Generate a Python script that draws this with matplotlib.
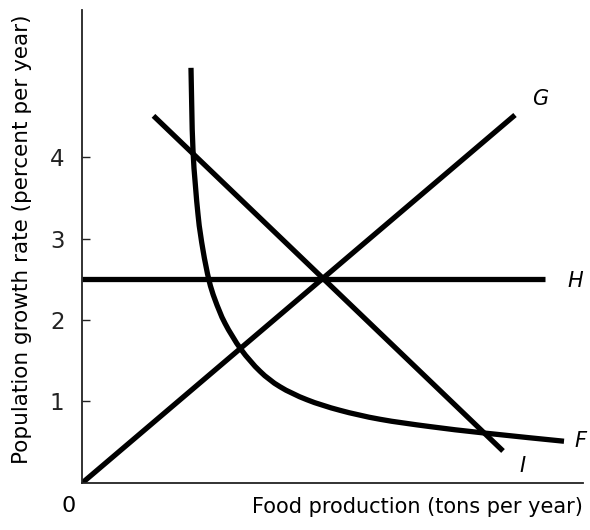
import matplotlib
matplotlib.use("Agg")
import matplotlib.pyplot as plt
from matplotlib.path import Path
from matplotlib.patches import PathPatch

# Curve G: rising straight line from the origin
g_x = [0.0, 8.65]
g_y = [0.0, 4.52]

# Curve H: horizontal line at 2.5 percent
h_x = [0.0, 9.25]
h_y = [2.5, 2.5]

# Curve I: falling straight line
i_x = [1.42, 8.41]
i_y = [4.51, 0.39]

# Curve F: steep, convex falling curve
f_x = [2.17, 2.21, 2.31, 2.41, 2.53, 2.65, 2.85, 3.17, 3.55, 3.95, 4.49,
       5.15, 5.95, 6.95, 8.05, 9.63]
f_y = [5.10, 4.09, 3.30, 2.86, 2.49, 2.25, 1.96, 1.64, 1.37, 1.18, 1.02,
       0.89, 0.78, 0.69, 0.61, 0.51]

y_ticks = [1, 2, 3, 4]
y_tick_labels = ["1", "2", "3", "4"]

plt.rcParams["font.family"] = ["DejaVu Sans"]

fig = plt.figure(figsize=(5.90, 5.30), dpi=100)
ax = fig.add_axes([0.1398, 0.0892, 0.8475, 0.8918])
ax.set_xlim(0, 10)
ax.set_ylim(0, 5.81)

lw = 3.8
style = dict(color="black", lw=lw, solid_capstyle="butt", solid_joinstyle="round")
ax.plot(h_x, h_y, **style)
ax.plot(g_x, g_y, **style)
ax.plot(i_x, i_y, **style)


def smooth_path(xs, ys, trans):
    """Catmull-Rom curve through the points, built in display space."""
    pts = trans.transform(list(zip(xs, ys)))
    verts = [pts[0]]
    codes = [Path.MOVETO]
    n = len(pts)
    for k in range(n - 1):
        p0 = pts[k - 1] if k > 0 else pts[k]
        p1 = pts[k]
        p2 = pts[k + 1]
        p3 = pts[k + 2] if k + 2 < n else pts[k + 1]
        c1 = p1 + (p2 - p0) / 6.0
        c2 = p2 - (p3 - p1) / 6.0
        verts += [c1, c2, p2]
        codes += [Path.CURVE4] * 3
    return Path(verts, codes)


fig.canvas.draw()
f_path = smooth_path(f_x, f_y, ax.transData)
ax.add_patch(PathPatch(f_path, transform=None, facecolor="none",
                       edgecolor="black", lw=lw, capstyle="butt",
                       joinstyle="round"))

# Curve labels
lab = dict(fontsize=15, style="italic", color="black", va="center", ha="center")
ax.text(9.15, 4.72, "G", **lab)
ax.text(9.85, 2.48, "H", **lab)
ax.text(9.95, 0.51, "F", **lab)
ax.text(8.79, 0.20, "I", **lab)

for side in ("top", "right"):
    ax.spines[side].set_visible(False)
for side in ("left", "bottom"):
    ax.spines[side].set_linewidth(1.3)
    ax.spines[side].set_color("#222222")

ax.set_xticks([])
ax.set_yticks(y_ticks)
ax.set_yticklabels(y_tick_labels, fontsize=16.5)
ax.tick_params(axis="y", direction="in", length=6, width=1.0, pad=13, colors="#222222")

ax.text(-0.28, -0.28, "0", transform=ax.transData, fontsize=16,
        ha="center", va="center", clip_on=False)

ax.set_xlabel("Food production (tons per year)", fontsize=15, ha="right",
              x=1.0, labelpad=10)
ax.set_ylabel("Population growth rate (percent per year)", fontsize=15.5)
ax.yaxis.set_label_coords(-0.101, 0.515)

fig.savefig("out.png", dpi=100)
